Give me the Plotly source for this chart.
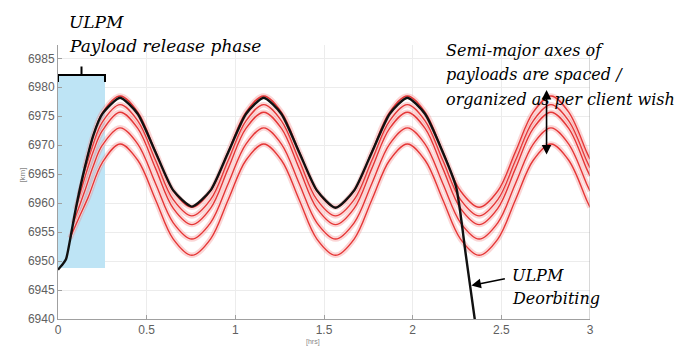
import plotly.graph_objects as go

# ---------------- data ----------------
t_osc = [0.35, 0.45, 0.55, 0.65, 0.755, 0.86, 0.96, 1.06, 1.16, 1.26, 1.36, 1.46,
         1.565, 1.67, 1.77, 1.87, 1.97, 2.07, 2.17, 2.27, 2.375, 2.48, 2.58, 2.68,
         2.78, 2.88, 2.98, 3.0]

ulpm_t = [0.0, 0.025, 0.045, 0.07, 0.1, 0.15, 0.2, 0.25, 0.35, 0.45, 0.55, 0.65,
          0.755, 0.86, 0.96, 1.06, 1.16, 1.26, 1.36, 1.46, 1.565, 1.67, 1.77, 1.87,
          1.97, 2.07, 2.17, 2.245, 2.3, 2.35, 2.37]
ulpm_a = [6948.5, 6949.4, 6950.3, 6954.0, 6959.0, 6966.0, 6971.8, 6975.4, 6978.2,
          6975.4, 6968.8, 6962.2, 6959.4, 6962.2, 6968.8, 6975.4, 6978.2, 6975.4,
          6968.8, 6962.2, 6959.2, 6962.2, 6968.8, 6975.4, 6978.2, 6975.4, 6968.8,
          6962.8, 6951.0, 6940.0, 6936.0]

p0_t0 = [0.15, 0.2, 0.25]
p0_a0 = [6966.0, 6971.8, 6975.6]
p0_a = [6978.5, 6975.7, 6968.9, 6962.1, 6959.3, 6962.1, 6968.9, 6975.7, 6978.5, 6975.7,
        6968.9, 6962.1, 6959.3, 6962.1, 6968.9, 6975.7, 6978.5, 6975.7, 6968.9, 6962.1,
        6959.3, 6962.1, 6968.9, 6975.7, 6978.5, 6975.7, 6968.9, 6967.6]

p1_t0 = [0.12, 0.2, 0.25]
p1_a0 = [6961.5, 6970.3, 6974.0]
p1_a = [6977.0, 6974.2, 6967.4, 6960.6, 6957.8, 6960.6, 6967.4, 6974.2, 6977.0, 6974.2,
        6967.4, 6960.6, 6957.8, 6960.6, 6967.4, 6974.2, 6977.0, 6974.2, 6967.4, 6960.6,
        6957.8, 6960.6, 6967.4, 6974.2, 6977.0, 6974.2, 6967.4, 6966.1]

p2_t0 = [0.1, 0.15, 0.2, 0.25]
p2_a0 = [6959.0, 6964.3, 6969.0, 6972.5]
p2_a = [6975.7, 6972.9, 6966.0, 6959.1, 6956.3, 6959.1, 6966.0, 6972.9, 6975.7, 6972.9,
        6966.0, 6959.1, 6956.3, 6959.1, 6966.0, 6972.9, 6975.7, 6972.9, 6966.0, 6959.1,
        6956.3, 6959.1, 6966.0, 6972.9, 6975.7, 6972.9, 6966.0, 6964.7]

p3_t0 = [0.085, 0.15, 0.2, 0.25]
p3_a0 = [6956.5, 6962.0, 6966.5, 6970.0]
p3_a = [6973.0, 6970.2, 6963.4, 6956.6, 6953.8, 6956.6, 6963.4, 6970.2, 6973.0, 6970.2,
        6963.4, 6956.6, 6953.8, 6956.6, 6963.4, 6970.2, 6973.0, 6970.2, 6963.4, 6956.6,
        6953.8, 6956.6, 6963.4, 6970.2, 6973.0, 6970.2, 6963.4, 6962.1]

p4_t0 = [0.068, 0.12, 0.17, 0.25]
p4_a0 = [6954.0, 6957.6, 6961.0, 6967.0]
p4_a = [6970.2, 6967.4, 6960.6, 6953.8, 6951.0, 6953.8, 6960.6, 6967.4, 6970.2, 6967.4,
        6960.6, 6953.8, 6951.0, 6953.8, 6960.6, 6967.4, 6970.2, 6967.4, 6960.6, 6953.8,
        6951.0, 6953.8, 6960.6, 6967.4, 6970.2, 6967.4, 6960.6, 6959.3]

payloads = [(p0_t0, p0_a0, p0_a), (p1_t0, p1_a0, p1_a), (p2_t0, p2_a0, p2_a),
            (p3_t0, p3_a0, p3_a), (p4_t0, p4_a0, p4_a)]

x_ticks = [0, 0.5, 1, 1.5, 2, 2.5, 3]
x_tick_labels = ["0", "0.5", "1", "1.5", "2", "2.5", "3"]
y_ticks = [6940, 6945, 6950, 6955, 6960, 6965, 6970, 6975, 6980, 6985]

release_phase = [0.0, 0.265]          # hours
release_band = [6948.8, 6982.1]       # km

# ---------------- figure ----------------
fig = go.Figure()

spl = dict(shape="spline", smoothing=1.0)
for t0, a0, a in payloads:
    xs = t0 + t_osc
    ys = a0 + a
    fig.add_trace(go.Scatter(x=xs, y=ys, mode="lines",
                             line=dict(color="rgba(240,120,120,0.30)", width=5.5, **spl),
                             hoverinfo="skip", showlegend=False))
    fig.add_trace(go.Scatter(x=xs, y=ys, mode="lines",
                             line=dict(color="rgba(255,215,215,0.9)", width=2.8, **spl),
                             hoverinfo="skip", showlegend=False))
    fig.add_trace(go.Scatter(x=xs, y=ys, mode="lines",
                             line=dict(color="rgb(228,55,55)", width=1.4, **spl),
                             showlegend=False))

fig.add_trace(go.Scatter(x=ulpm_t, y=ulpm_a, mode="lines",
                         line=dict(color="#111111", width=2.4, shape="spline", smoothing=0.6),
                         showlegend=False))

fig.add_shape(type="rect", xref="x", yref="y",
              x0=release_phase[0], x1=release_phase[1],
              y0=release_band[0], y1=release_band[1],
              fillcolor="rgb(190,228,245)", line=dict(width=0), layer="between")
xm = (release_phase[0] + release_phase[1]) / 2
fig.add_shape(type="path", xref="x", yref="y",
              path=(f"M {release_phase[0]},6980.9 L {release_phase[0]},6982.1 "
                    f"L {release_phase[1]},6982.1 L {release_phase[1]},6980.9 "
                    f"M {xm},6982.1 L {xm},6983.6"),
              line=dict(color="black", width=2))

fig.add_shape(type="line", xref="x", yref="paper", x0=3, x1=3, y0=0, y1=1,
              line=dict(color="#b0b0b0", width=1))

SERIF = "DejaVu Serif"

def note(text, px, py, size):
    fig.add_annotation(text=text, xref="paper", yref="paper",
                       x=(px - 58) / 532, y=(323 - py) / 278,
                       xanchor="left", yanchor="middle", showarrow=False,
                       font=dict(family=SERIF, size=size, color="black", style="italic"))

note("ULPM", 67, 22, 17)
note("Payload release phase", 67, 46, 17)
note("Semi-major axes of", 444, 51, 16)
note("payloads are spaced /", 444, 75, 16)
note("organized as per client wish", 444, 100, 16)
note("ULPM", 510, 279, 16)
note("Deorbiting", 510, 302, 16)

fig.add_annotation(x=2.331, y=6945.8, xref="x", yref="y", ax=35, ay=-7,
                   text="", showarrow=True, arrowhead=2, arrowsize=1.2,
                   arrowwidth=1.6, arrowcolor="black")
fig.add_annotation(x=2.755, y=6968.4, xref="x", yref="y", ax=2.755, ay=6979.8,
                   axref="x", ayref="y", text="", showarrow=True,
                   arrowhead=2, startarrowhead=2, arrowside="end+start",
                   arrowsize=1.2, arrowwidth=1.6, arrowcolor="black")

fig.add_annotation(text="[hrs]", xref="paper", yref="paper", x=(313 - 58) / 532,
                   y=(323 - 346) / 278, showarrow=False, yanchor="middle",
                   font=dict(family="Liberation Sans", size=7, color="#888888"))
fig.add_annotation(text="[km]", xref="paper", yref="paper", x=(16 - 58) / 532,
                   y=(323 - 177) / 278, showarrow=False, textangle=-90,
                   font=dict(family="Liberation Sans", size=8, color="#888888"))

axis_common = dict(showgrid=True, gridcolor="#ececec", gridwidth=1,
                   showline=True, linecolor="#a0a0a0", linewidth=1,
                   ticks="inside", ticklen=4, tickcolor="#a0a0a0", zeroline=False,
                   tickfont=dict(family="Liberation Sans", size=12, color="#606060"))

fig.update_xaxes(range=[0, 3], tickvals=x_ticks, ticktext=x_tick_labels, **axis_common)
fig.update_yaxes(range=[6940, 6987.3], tickvals=y_ticks, **axis_common)

fig.update_layout(width=688, height=349, margin=dict(l=58, r=98, t=45, b=26),
                  paper_bgcolor="white", plot_bgcolor="white", showlegend=False)

fig.write_html("out.html")
